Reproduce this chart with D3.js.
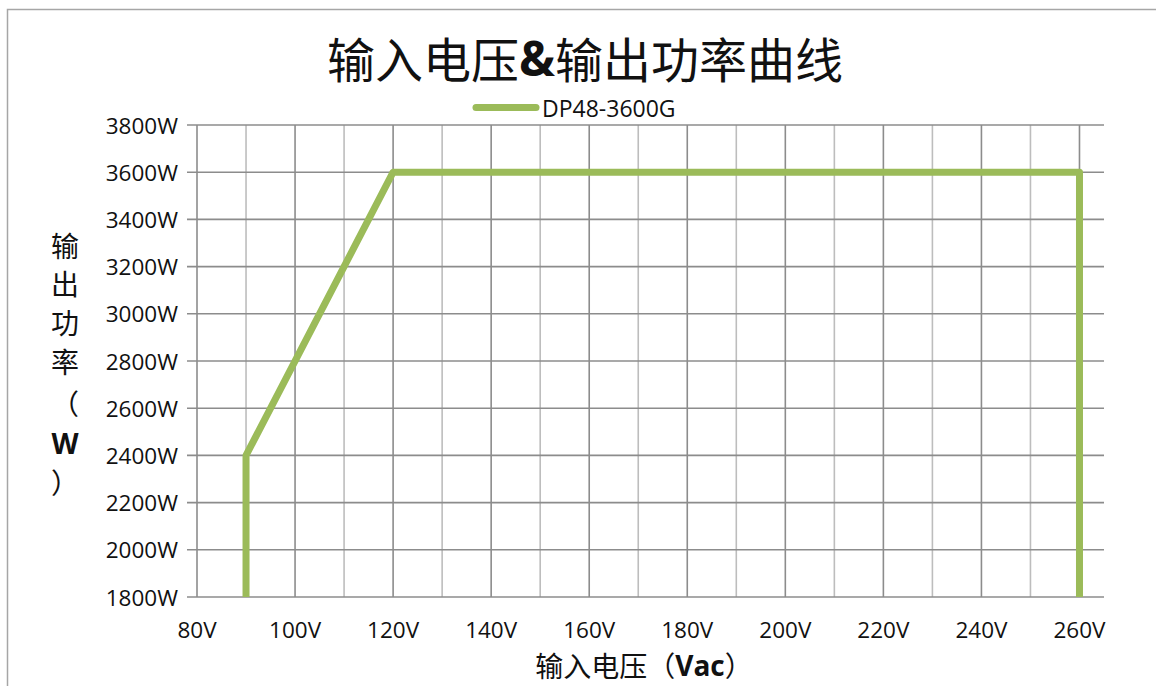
<!DOCTYPE html>
<html>
<head>
<meta charset="utf-8">
<script src="https://cdn.jsdelivr.net/npm/d3@7"></script>
<style>
  html, body { margin: 0; padding: 0; background: #fff; }
  svg { display: block; }
  text { font-family: "Open Sans", "Noto Sans CJK SC", sans-serif; fill: #111; }
  .cjk { font-family: "Noto Sans CJK SC", sans-serif; }
</style>
</head>
<body>
<svg id="chart" width="1156" height="686"></svg>
<script>
// Input voltage (V) vs. output power (W) derating curve
const seriesName = "DP48-3600G";
const voltage = [90, 90, 120, 260, 260];
const power = [1800, 2400, 3600, 3600, 1800];
const xTickValues = [80, 90, 100, 110, 120, 130, 140, 150, 160, 170, 180, 190, 200, 210, 220, 230, 240, 250, 260];
const xLabelValues = [80, 100, 120, 140, 160, 180, 200, 220, 240, 260];
const yTickValues = [1800, 2000, 2200, 2400, 2600, 2800, 3000, 3200, 3400, 3600, 3800];
const titleParts = ["输入电压", "&", "输出功率曲线"];
const xTitle = ["输入电压（", "Vac", "）"];
const yTitle = ["输", "出", "功", "率", "（", "W", "）"];

const svg = d3.select("#chart");
const green = "#9bbb59";

// outer frame
svg.append("rect")
  .attr("x", 7.5).attr("y", 9.5).attr("width", 1160).attr("height", 700)
  .attr("fill", "none").attr("stroke", "#a6a6a6").attr("stroke-width", 1.5);

const x = d3.scaleLinear().domain([80, 265]).range([197, 1104]);
const y = d3.scaleLinear().domain([1800, 3800]).range([597, 125]);

// vertical grid lines (darker every 20 V)
svg.append("g").selectAll("line").data(xTickValues).join("line")
  .attr("x1", d => x(d)).attr("x2", d => x(d))
  .attr("y1", y(3800)).attr("y2", y(1800))
  .attr("stroke", d => d % 20 === 0 ? "#8c8c8c" : "#bdbdbd")
  .attr("stroke-width", 1.6);

// horizontal grid lines with short tick stubs on the left
svg.append("g").selectAll("line").data(yTickValues).join("line")
  .attr("x1", 187).attr("x2", 1104)
  .attr("y1", d => y(d)).attr("y2", d => y(d))
  .attr("stroke", "#8c8c8c")
  .attr("stroke-width", 1.6);

// y tick labels
svg.append("g").selectAll("text").data(yTickValues).join("text")
  .attr("x", 178).attr("y", d => y(d))
  .attr("text-anchor", "end").attr("dominant-baseline", "central")
  .style("font-size", "22.5px")
  .text(d => d + "W");

// x tick labels
svg.append("g").selectAll("text").data(xLabelValues).join("text")
  .attr("x", d => x(d)).attr("y", 629)
  .attr("text-anchor", "middle").attr("dominant-baseline", "central")
  .style("font-size", "22.5px")
  .text(d => d + "V");

// the curve
const line = d3.line().x((d, i) => x(voltage[i])).y((d, i) => y(power[i]));
svg.append("path")
  .datum(power)
  .attr("d", line)
  .attr("fill", "none")
  .attr("stroke", green)
  .attr("stroke-width", 7)
  .attr("stroke-linejoin", "round")
  .attr("stroke-linecap", "butt");

// title
const tt = svg.append("text")
  .attr("class", "cjk")
  .attr("x", 585).attr("y", 57)
  .attr("text-anchor", "middle").attr("dominant-baseline", "central")
  .style("font-size", "48px").style("font-weight", 400);
tt.append("tspan").text(titleParts[0]);
tt.append("tspan").style("font-family", "'Open Sans', sans-serif").style("font-weight", 700).text(titleParts[1]);
tt.append("tspan").text(titleParts[2]);

// legend
svg.append("line")
  .attr("x1", 476).attr("x2", 536).attr("y1", 107.5).attr("y2", 107.5)
  .attr("stroke", green).attr("stroke-width", 7).attr("stroke-linecap", "round");
svg.append("text")
  .attr("x", 542).attr("y", 108)
  .attr("dominant-baseline", "central")
  .style("font-size", "23px")
  .text(seriesName);

// x axis title
const xt = svg.append("text")
  .attr("class", "cjk")
  .attr("x", 644).attr("y", 665)
  .attr("text-anchor", "middle").attr("dominant-baseline", "central")
  .style("font-size", "28px");
xt.append("tspan").text(xTitle[0]);
xt.append("tspan").style("font-family", "'Open Sans', sans-serif").style("font-weight", 700).text(xTitle[1]);
xt.append("tspan").text(xTitle[2]);

// y axis title, stacked vertically
const yCenters = [245, 283, 322, 361, 403, 443, 482];
svg.append("g").selectAll("text").data(yTitle).join("text")
  .attr("class", "cjk")
  .attr("x", 65).attr("y", (d, i) => yCenters[i])
  .attr("text-anchor", "middle").attr("dominant-baseline", "central")
  .style("font-size", "28px")
  .style("font-weight", d => d === "W" ? 700 : 400)
  .style("font-family", d => d === "W" ? "'Open Sans', sans-serif" : null)
  .text(d => d);
</script>
</body>
</html>
